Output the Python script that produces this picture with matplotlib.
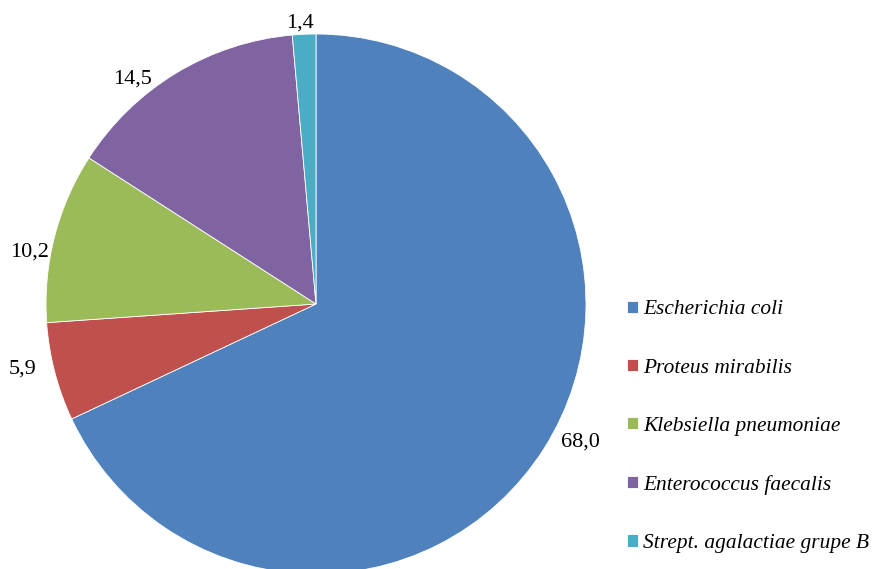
import matplotlib as mpl
import matplotlib.pyplot as plt
import numpy as np

mpl.rcParams['font.family'] = 'Liberation Serif'
mpl.rcParams['font.size'] = 14

# dados
especies = ['Escherichia coli', 'Proteus mirabilis', 'Klebsiella pneumoniae',
            'Enterococcus faecalis', 'Strept. agalactiae grupe B']
valores = [68.0, 5.9, 10.2, 14.5, 1.4]
cores = ['#4F81BD', '#C0504D', '#9BBB59', '#8064A2', '#4BACC6']

# ajuste fino dos rótulos (graus, raio) como o Excel coloca
desvio_ang = [5.2, -2.4, 3.7, 7.8, 0.8]
raio_rot = [1.10, 1.11, 1.08, 1.08, 1.05]

fig = plt.figure(figsize=(8.72, 5.69), dpi=100)
W, H = 872, 569
cx, cy, r = 316, 304, 270
ax = fig.add_axes([(cx - r) / W, (H - cy - r) / H, 2 * r / W, 2 * r / H])

wedges, _ = ax.pie(valores, colors=cores, startangle=90, counterclock=False,
                   radius=1, wedgeprops=dict(edgecolor='white', linewidth=0.6))
for w, d, rr, v in zip(wedges, desvio_ang, raio_rot, valores):
    w.set_clip_on(False)
    ang = np.deg2rad((w.theta1 + w.theta2) / 2 + d)
    ax.text(rr * np.cos(ang), rr * np.sin(ang) - 2 / r, f'{v:.1f}'.replace('.', ','),
            ha='center', va='center', fontsize=16)
ax.set_xlim(-1, 1)
ax.set_ylim(-1, 1)
ax.set_aspect('equal')
ax.axis('off')

leg = fig.legend(wedges, especies, loc='upper left',
                 bbox_to_anchor=(627 / W, 1 - 300.5 / H), frameon=False,
                 prop=dict(family='Liberation Serif', style='italic', size=15.4),
                 handlelength=0.52, handleheight=0.52, handletextpad=0.25,
                 labelspacing=1.83, borderpad=0, borderaxespad=0)

plt.savefig('out.png', dpi=100)
plt.close()
